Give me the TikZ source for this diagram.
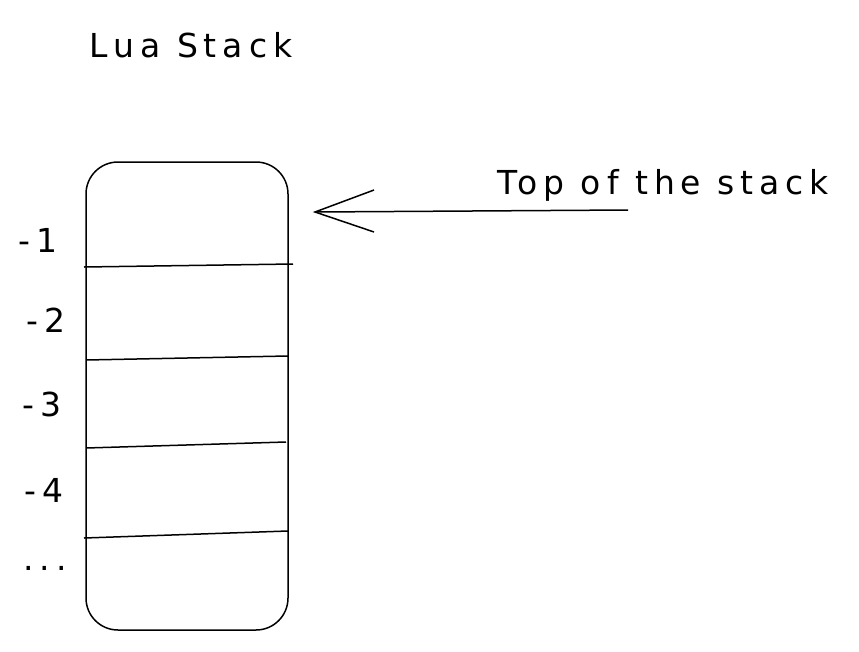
\documentclass[tikz,border=0pt]{standalone}
\usepackage{fontspec}
\setmainfont[LetterSpace=18]{DejaVu Sans}
\usetikzlibrary{arrows.meta}
\begin{document}
\begin{tikzpicture}[x=1pt,y=-1pt,
  lbl/.style={font=\fontsize{33}{36}\selectfont, inner sep=0pt},
  ln/.style={line width=1.5pt, black}]
\useasboundingbox[fill=white] (0,0) rectangle (859,651);
\node[lbl] (title) at (191,45) {Lua Stack};
\draw[ln, rounded corners=32] (86,162) rectangle (288,630);
\coordinate (d1l) at (84,267); \coordinate (d1r) at (293,264);
\coordinate (d2l) at (86,360); \coordinate (d2r) at (288,356);
\coordinate (d3l) at (86,448); \coordinate (d3r) at (286,442);
\coordinate (d4l) at (84,538); \coordinate (d4r) at (288,531);
\draw[ln] (d1l) -- (d1r);
\draw[ln] (d2l) -- (d2r);
\draw[ln] (d3l) -- (d3r);
\draw[ln] (d4l) -- (d4r);
\node[lbl] (l1) at (38,240) {-1};
\node[lbl] (l2) at (46,320) {-2};
\node[lbl] (l3) at (42,404) {-3};
\node[lbl] (l4) at (44,490) {-4};
\node[lbl] (l5) at (45,568) {...};
\node[lbl] (top) at (663,185) {Top of the stack};
\coordinate (as) at (628,210);
\coordinate (ae) at (315,212);
\draw[ln] (as) -- (ae);
\draw[ln] (374,190) -- (ae) -- (374,232);
\end{tikzpicture}
\end{document}
